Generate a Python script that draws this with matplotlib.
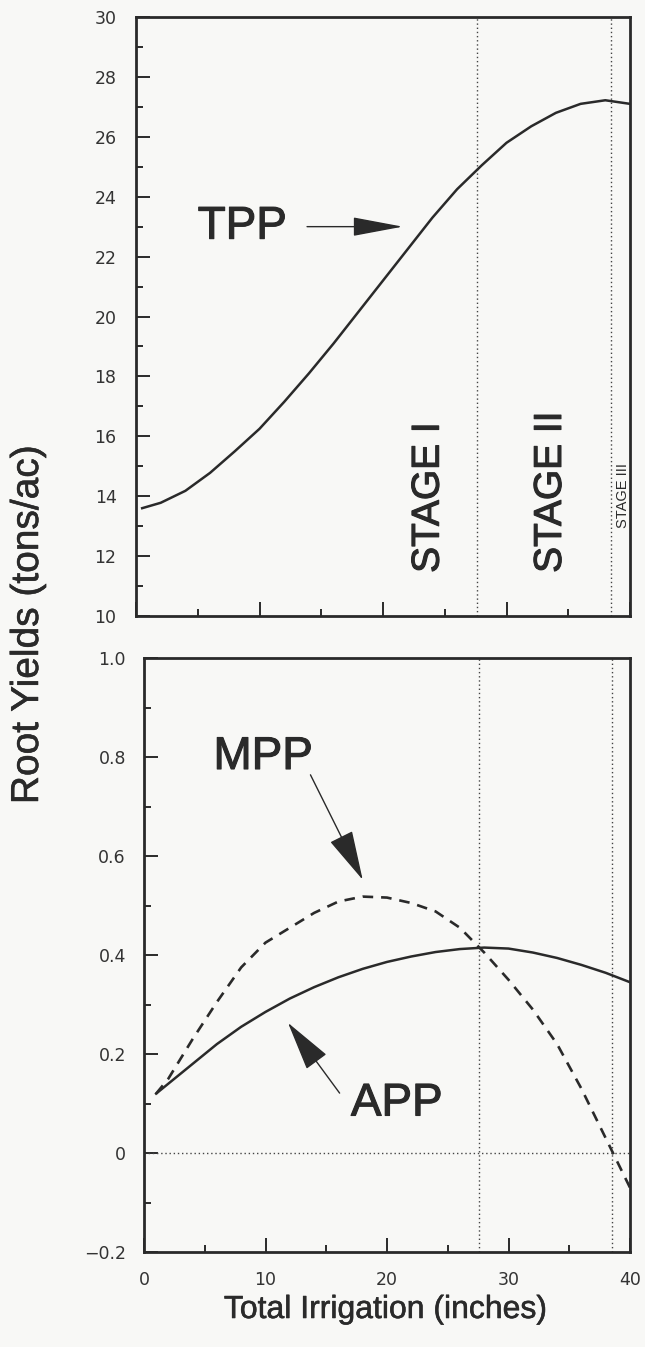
import numpy as np
import matplotlib
matplotlib.use("Agg")
import matplotlib.pyplot as plt
import matplotlib.patheffects as pe
from matplotlib.ticker import MultipleLocator

# irrigation (inches)
x_tpp = [0.5, 2, 4, 6, 8, 10, 12, 14, 16, 18, 20, 22, 24, 26, 28, 30, 32, 34, 36, 38, 40]
tpp = [13.6, 13.78, 14.18, 14.78, 15.5, 16.25, 17.15, 18.1, 19.1, 20.15, 21.2,
       22.25, 23.3, 24.25, 25.05, 25.8, 26.35, 26.8, 27.1, 27.22, 27.1]

x_pp = [1, 2, 4, 6, 8, 10, 12, 14, 16, 18, 20, 22, 24, 26, 28, 30, 32, 34, 36, 38, 40]
app = [0.12, 0.14, 0.18, 0.22, 0.255, 0.285, 0.312, 0.335, 0.355, 0.372, 0.386,
       0.397, 0.406, 0.412, 0.415, 0.413, 0.405, 0.394, 0.38, 0.364, 0.345]
mpp = [0.12, 0.15, 0.23, 0.305, 0.375, 0.425, 0.455, 0.485, 0.508, 0.518, 0.516,
       0.505, 0.488, 0.455, 0.405, 0.35, 0.29, 0.22, 0.13, 0.03, -0.07]

stage_bounds = [27.6, 38.5]
stage_names = ['STAGE I', 'STAGE II', 'STAGE III']

ink = '#2a2a2a'
bg = '#f8f8f6'
big = 'Liberation Sans'
heavy = [pe.withStroke(linewidth=0.8, foreground=ink)]
medium = [pe.withStroke(linewidth=0.4, foreground=ink)]

fig = plt.figure(figsize=(6.45, 13.47), dpi=100, facecolor=bg)
W, H = 645, 1347
ax1 = fig.add_axes([136 / W, 1 - 616 / H, (630 - 136) / W, (616 - 17) / H])
ax2 = fig.add_axes([144 / W, 1 - 1252 / H, (630 - 144) / W, (1252 - 658) / H])

for ax in (ax1, ax2):
    ax.set_facecolor(bg)
    for s in ax.spines.values():
        s.set_linewidth(2.0)
        s.set_color(ink)
    ax.tick_params(which='both', direction='in', top=False, right=False,
                   color=ink, width=1.4, labelsize=12.5, labelcolor='#333333')
    ax.tick_params(which='major', length=10)
    ax.tick_params(which='minor', length=5)
    ax.set_xlim(0, 40)
    ax.xaxis.set_major_locator(MultipleLocator(10))
    ax.xaxis.set_minor_locator(MultipleLocator(5))
    for b in stage_bounds:
        ax.axvline(b, color='#444444', lw=1.0, ls=(0, (1, 2)))

# top panel: total physical product
ax1.plot(x_tpp, tpp, color=ink, lw=1.8)
ax1.set_ylim(10, 30)
ax1.yaxis.set_major_locator(MultipleLocator(2))
ax1.yaxis.set_minor_locator(MultipleLocator(1))
ax1.tick_params(axis='x', labelbottom=False)
ax1.tick_params(axis='y', pad=14)

ax1.text(8.6, 23.0, 'TPP', fontsize=33, family=big, color=ink, ha='center',
         va='center', path_effects=heavy)
ax1.annotate('', xy=(21.6, 23.0), xytext=(13.85, 23.0),
             arrowprops=dict(arrowstyle='-|>,head_length=3.2,head_width=0.6',
                             mutation_scale=10, lw=1.0, color=ink,
                             shrinkA=0, shrinkB=0))

ax1.text(23.7, 11.44, stage_names[0], rotation=90, fontsize=28, family=big,
         color=ink, ha='center', va='bottom', path_effects=heavy)
ax1.text(33.6, 11.44, stage_names[1], rotation=90, fontsize=28, family=big,
         color=ink, ha='center', va='bottom', path_effects=heavy)
ax1.text(39.45, 12.94, stage_names[2], rotation=90, fontsize=10.5, family=big,
         color=ink, ha='center', va='bottom')

# bottom panel: average and marginal physical product
ax2.plot(x_pp, app, color=ink, lw=1.8)
ax2.plot(x_pp, mpp, color=ink, lw=1.9, ls=(0, (4, 3)))
ax2.axhline(0, color='#444444', lw=1.0, ls=(0, (1, 2)))
ax2.set_ylim(-0.2, 1.0)
ax2.yaxis.set_minor_locator(MultipleLocator(0.1))
ax2.set_yticks([-0.2, 0, 0.2, 0.4, 0.6, 0.8, 1.0])
ax2.set_yticklabels(['\u22120.2', '0', '0.2', '0.4', '0.6', '0.8', '1.0'])
ax2.tick_params(axis='y', pad=13)
ax2.tick_params(axis='x', pad=14)

ax2.text(9.8, 0.80, 'MPP', fontsize=33, family=big, color=ink, ha='center',
         va='center', path_effects=heavy)
ax2.annotate('', xy=(18.0, 0.552), xytext=(13.7, 0.764),
             arrowprops=dict(arrowstyle='-|>,head_length=3.2,head_width=0.8',
                             mutation_scale=10, lw=1.0, color=ink,
                             shrinkA=0, shrinkB=0))
ax2.text(20.8, 0.10, 'APP', fontsize=33, family=big, color=ink, ha='center',
         va='center', path_effects=heavy)
ax2.annotate('', xy=(11.85, 0.263), xytext=(16.1, 0.121),
             arrowprops=dict(arrowstyle='-|>,head_length=3.2,head_width=0.8',
                             mutation_scale=10, lw=1.0, color=ink,
                             shrinkA=0, shrinkB=0))

fig.text(28 / W, 1 - 625 / H, 'Root Yields (tons/ac)', rotation=90, fontsize=28,
         family=big, color=ink, ha='center', va='center', path_effects=medium)
fig.text(386 / W, 1 - 1310 / H, 'Total Irrigation (inches)', fontsize=23,
         family=big, color=ink, ha='center', va='center', path_effects=medium)

fig.savefig('out.png', dpi=100, facecolor=bg)
